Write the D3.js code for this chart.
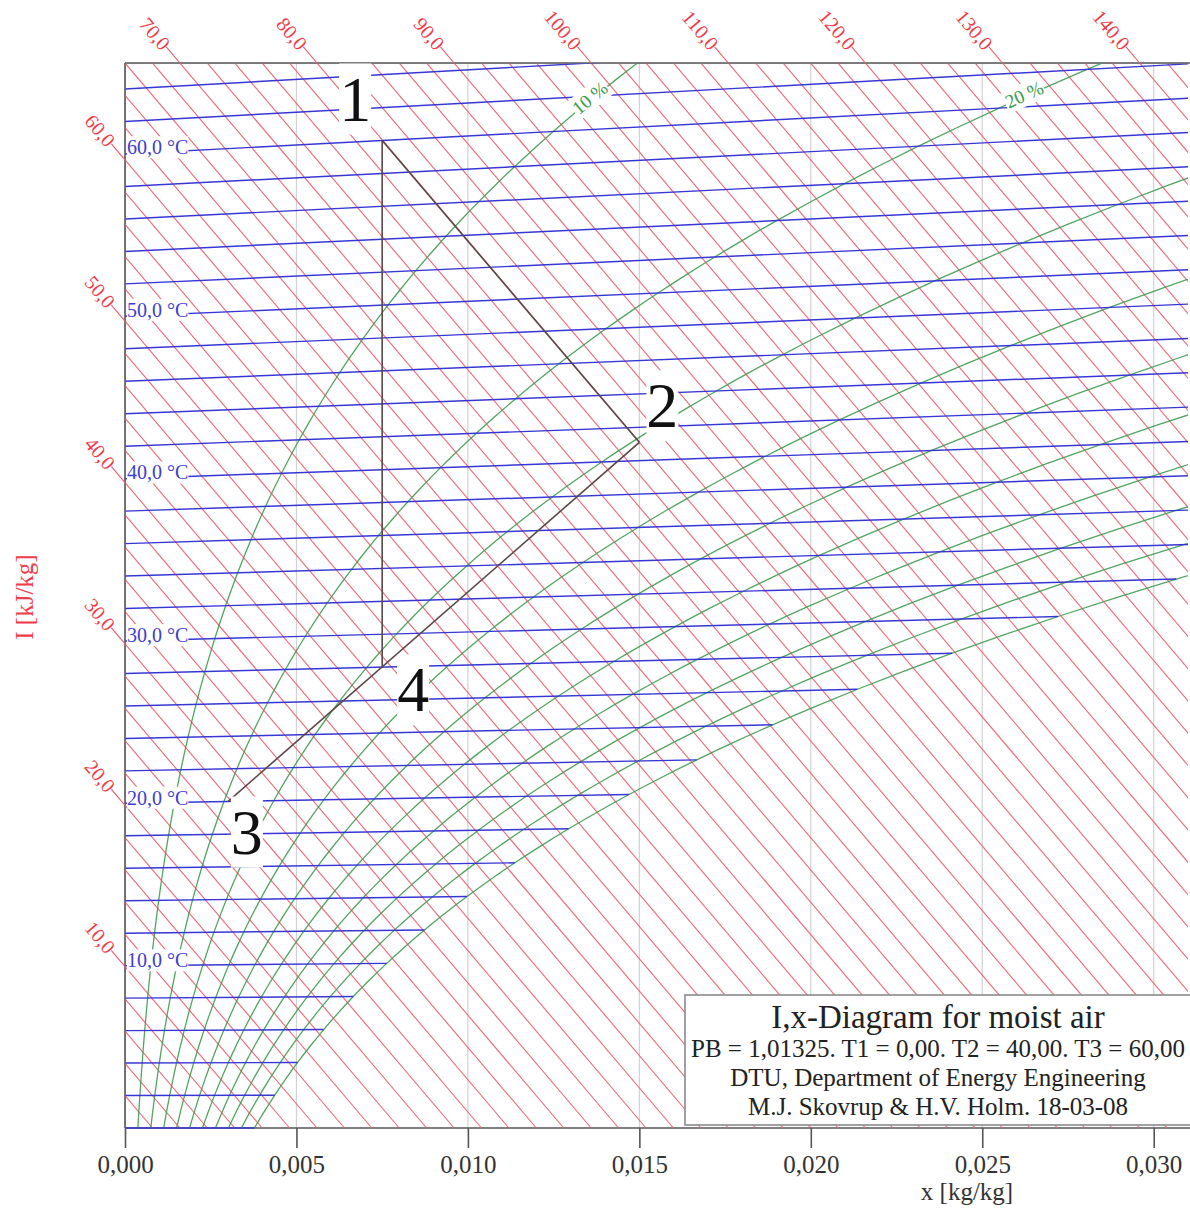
<!DOCTYPE html>
<html><head><meta charset="utf-8">
<script src="https://cdn.jsdelivr.net/npm/d3@7"></script>
<style>
body{margin:0;background:#fff}
svg{display:block}
text{font-family:"Liberation Serif","Times New Roman",serif}
</style>
</head><body>
<svg id="chart" width="1190" height="1213"></svg>
<script>
// ---------------- DATA ----------------
const totalPressure = 101.325; // kPa (PB = 1,01325 bar)
const xDomain = [0, 0.031];
const yDomain = [0, 66];
const xTicks = [0, 0.005, 0.010, 0.015, 0.020, 0.025, 0.030];
const enthalpyLevels = [2,4,6,8,10,12,14,16,18,20,22,24,26,28,30,32,34,36,38,40,42,44,46,48,50,52,54,56,58,60,62,64,66,68,70,72,74,76,78,80,82,84,86,88,90,92,94,96,98,100,102,104,106,108,110,112,114,116,118,120,122,124,126,128,130,132,134,136,138,140,142];
const enthalpyLabelLevels = [10,20,30,40,50,60,70,80,90,100,110,120,130,140];
const isothermLevels = [0,2,4,6,8,10,12,14,16,18,20,22,24,26,28,30,32,34,36,38,40,42,44,46,48,50,52,54,56,58,60,62,64];
const isothermLabelLevels = [10,20,30,40,50,60];
const rhLevels = [0.1,0.2,0.3,0.4,0.5,0.6,0.7,0.8,0.9,1.0];
const rhLabelLevels = [0.1, 0.2];
const rhLabelTemps = [61.8, 60.6];
// saturation pressure of water (kPa), 0..70 °C
const satTemps = [0,1,2,3,4,5,6,7,8,9,10,11,12,13,14,15,16,17,18,19,20,21,22,23,24,25,26,27,28,29,30,31,32,33,34,35,36,37,38,39,40,41,42,43,44,45,46,47,48,49,50,51,52,53,54,55,56,57,58,59,60,61,62,63,64,65,66,67,68,69,70];
const satPressures = [0.6112,0.6571,0.7060,0.7581,0.8135,0.8726,0.9354,1.0021,1.0730,1.1482,1.2282,1.3130,1.4028,1.4981,1.5990,1.7058,1.8188,1.9384,2.0647,2.1983,2.3393,2.4882,2.6453,2.8111,2.9858,3.1699,3.3639,3.5681,3.7831,4.0092,4.2470,4.4969,4.7596,5.0354,5.3251,5.6290,5.9479,6.2823,6.6328,7.0002,7.3849,7.7878,8.2096,8.6508,9.1124,9.5950,10.099,10.627,11.177,11.752,12.352,12.978,13.631,14.312,15.022,15.762,16.533,17.336,18.171,19.041,19.946,20.888,21.867,22.885,23.943,25.042,26.183,27.368,28.599,29.876,31.201];
const processIds = ["1","2","3","4"];
const processX = [0.0075, 0.015, 0.003, 0.0075];
const processT = [60, 41.1, 20, 28.05];
const processSegments = [["1","2"],["2","3"],["4","1"]];
const titleLines = ["I,x-Diagram for moist air","PB = 1,01325. T1 = 0,00. T2 = 40,00. T3 = 60,00","DTU, Department of Energy Engineering","M.J. Skovrup & H.V. Holm. 18-03-08"];

// ---------------- PHYSICS (chart coordinate system) ----------------
const r0 = 2501, cpa = 1.006, cpv = 1.86;
const enth = (t, x) => cpa*t + x*(r0 + cpv*t);
const skewY = (t, x) => enth(t, x) - r0*x;           // vertical chart coordinate
const humidity = (pv) => 0.622*pv/(totalPressure - pv);
const psAt = t => {
  const i = Math.min(satTemps.length-2, Math.floor(t));
  const f = t - satTemps[i];
  return satPressures[i] + f*(satPressures[i+1]-satPressures[i]);
};

// ---------------- SCALES ----------------
const xS = d3.scaleLinear().domain(xDomain).range([125, 1188]);
const yS = d3.scaleLinear().domain(yDomain).range([1128, 63]);
const fmtC = (v, d) => v.toFixed(d).replace(".", ",");

const svg = d3.select("#chart");
const RED = "#ee5e70", BLUE = "#3636d4", GREEN = "#3f9a50";

svg.append("defs").append("clipPath").attr("id","plot")
  .append("rect").attr("x",125.5).attr("y",63.5).attr("width",1188-125.5).attr("height",1129-63.5);

// grid
svg.append("g").selectAll("line").data(xTicks.filter(d => d > 0)).join("line")
  .attr("x1", d => xS(d)).attr("x2", d => xS(d)).attr("y1", yS(yDomain[1])).attr("y2", yS(0))
  .attr("stroke", "#d2d2d2").attr("stroke-width", 1.2);

// borders
const border = svg.append("g").attr("stroke","#555").attr("stroke-width",1.6);
border.append("line").attr("x1",xS(0)).attr("x2",xS(0)).attr("y1",yS(yDomain[1])).attr("y2",yS(0));
border.append("line").attr("x1",xS(0)).attr("x2",xS(xDomain[1])+2).attr("y1",yS(yDomain[1])).attr("y2",yS(yDomain[1]));
border.append("line").attr("x1",xS(0)).attr("x2",xS(xDomain[1])+2).attr("y1",yS(0)).attr("y2",yS(0));

const plot = svg.append("g").attr("clip-path","url(#plot)");

// enthalpy lines
plot.append("g").selectAll("line").data(enthalpyLevels).join("line")
  .attr("x1", xS(0)).attr("y1", h => yS(h))
  .attr("x2", h => xS(h/r0)).attr("y2", yS(0))
  .attr("stroke", RED).attr("stroke-width", 1.15).attr("opacity", 0.9);

// RH curves
const lineGen = d3.line().x(d => xS(d.x)).y(d => yS(d.y)).curve(d3.curveCatmullRom);
const rhData = rhLevels.map(phi => ({phi, pts: satTemps.map((t, i) => {
  const x = humidity(phi*satPressures[i]);
  return {x, y: skewY(t, x)};
})}));
plot.append("g").selectAll("path").data(rhData).join("path")
  .attr("d", d => lineGen(d.pts)).attr("fill","none")
  .attr("stroke", GREEN).attr("stroke-width", 1.3).attr("opacity", 0.9);

// isotherms
const isoEndX = t => humidity(satPressures[satTemps.indexOf(t)]);
plot.append("g").selectAll("line").data(isothermLevels).join("line")
  .attr("x1", xS(0)).attr("y1", t => yS(skewY(t, 0)))
  .attr("x2", t => xS(isoEndX(t)))
  .attr("y2", t => yS(skewY(t, isoEndX(t))))
  .attr("stroke", BLUE).attr("stroke-width", 1.45);

// helper: text with white background
function bgText(g, str, opts) {
  const t = g.append("text").text(str)
    .attr("x", opts.x || 0).attr("y", opts.y || 0)
    .attr("font-size", opts.size).attr("fill", opts.fill)
    .attr("text-anchor", opts.anchor || "start");
  if (opts.baseline) t.attr("dominant-baseline", opts.baseline);
  const b = t.node().getBBox();
  const p = opts.pad || 0;
  g.insert("rect", "text").attr("x", b.x - p).attr("y", b.y - p)
    .attr("width", b.width + 2*p).attr("height", b.height + 2*p).attr("fill", "#fff");
  return t;
}

// RH labels
rhLabelLevels.forEach((phi, i) => {
  const t = rhLabelTemps[i];
  const x = humidity(phi*psAt(t)), xa = humidity(phi*psAt(t-0.5)), xb = humidity(phi*psAt(t+0.5));
  const px = xS(x), py = yS(skewY(t, x));
  const ang = Math.atan2(yS(skewY(t+0.5, xb)) - yS(skewY(t-0.5, xa)), xS(xb) - xS(xa)) * 180/Math.PI;
  const g = svg.append("g").attr("transform", `translate(${px},${py}) rotate(${ang})`);
  bgText(g, Math.round(phi*100) + " %", {y: -2, size: 19, fill: "#3b9b4b", anchor: "middle", baseline: "central", pad: 1});
});

// isotherm labels
isothermLabelLevels.forEach(t => {
  const g = svg.append("g");
  bgText(g, fmtC(t, 1) + " °C", {x: xS(0) + 2, y: yS(skewY(t, 0.001)) + 2, size: 20, fill: "#3d3dd6", pad: 0});
});

// enthalpy leaders + labels
const lab = svg.append("g");
enthalpyLabelLevels.forEach(h => {
  let ex, ey;
  if (h <= yDomain[1]) { ex = xS(0); ey = yS(h); }
  else { ex = xS((h - yDomain[1])/r0); ey = yS(yDomain[1]); }
  const dx = xS(0.01) - xS(0), dy = yS(h - r0*0.01) - yS(h);
  const L = Math.hypot(dx, dy), ux = dx/L, uy = dy/L;
  const ang = Math.atan2(dy, dx)*180/Math.PI;
  lab.append("line").attr("x1", ex).attr("y1", ey).attr("x2", ex - ux*21).attr("y2", ey - uy*21)
    .attr("stroke", RED).attr("stroke-width", 1.15);
  lab.append("text").text(fmtC(h, 1))
    .attr("transform", `translate(${ex - ux*21},${ey - uy*21}) rotate(${ang})`)
    .attr("text-anchor", "end").attr("dominant-baseline", "central")
    .attr("font-size", 20).attr("fill", "#ef3b4a");
});

// process lines
const P = {};
processIds.forEach((id, i) => { P[id] = {x: processX[i], y: skewY(processT[i], processX[i])}; });
svg.append("g").selectAll("line").data(processSegments).join("line")
  .attr("x1", d => xS(P[d[0]].x)).attr("y1", d => yS(P[d[0]].y))
  .attr("x2", d => xS(P[d[1]].x)).attr("y2", d => yS(P[d[1]].y))
  .attr("stroke", "#5a4747").attr("stroke-width", 1.6);

// state point number labels
const numOffset = {"1": [-27, -20], "2": [23, -15], "3": [19, 52], "4": [31, 45]};
processIds.forEach(id => {
  const g = svg.append("g");
  bgText(g, id, {x: xS(P[id].x) + numOffset[id][0], y: yS(P[id].y) + numOffset[id][1],
    size: 64, fill: "#111", anchor: "middle", pad: 0});
});

// bottom axis
const ax = svg.append("g").attr("transform", `translate(0,${yS(0)})`)
  .call(d3.axisBottom(xS).tickValues(xTicks).tickSize(20).tickPadding(7).tickFormat(d => fmtC(d, 3)));
ax.select(".domain").remove();
ax.selectAll(".tick line").attr("stroke", "#555").attr("stroke-width", 1.6);
ax.selectAll(".tick text").attr("font-size", 25).attr("fill", "#333")
  .attr("font-family", '"Liberation Serif","Times New Roman",serif');

// axis titles
svg.append("text").text("x [kg/kg]").attr("x", 967).attr("y", 1200)
  .attr("text-anchor", "middle").attr("font-size", 25).attr("fill", "#333");
svg.append("text").text("I [kJ/kg]").attr("transform", "translate(24,597) rotate(-90)")
  .attr("text-anchor", "middle").attr("dominant-baseline", "central")
  .attr("font-size", 25).attr("fill", "#ef3b4a");

// legend box
const lg = svg.append("g");
lg.append("rect").attr("x", 685).attr("y", 995).attr("width", 520).attr("height", 130)
  .attr("fill", "#fff").attr("stroke", "#8a8a8a").attr("stroke-width", 1.6);
const lineY = [1028, 1057, 1086, 1115];
titleLines.forEach((s, i) => {
  lg.append("text").text(s).attr("x", 938).attr("y", lineY[i]).attr("text-anchor", "middle")
    .attr("font-size", i === 0 ? 33 : 25).attr("fill", "#222");
});
</script>
</body></html>
